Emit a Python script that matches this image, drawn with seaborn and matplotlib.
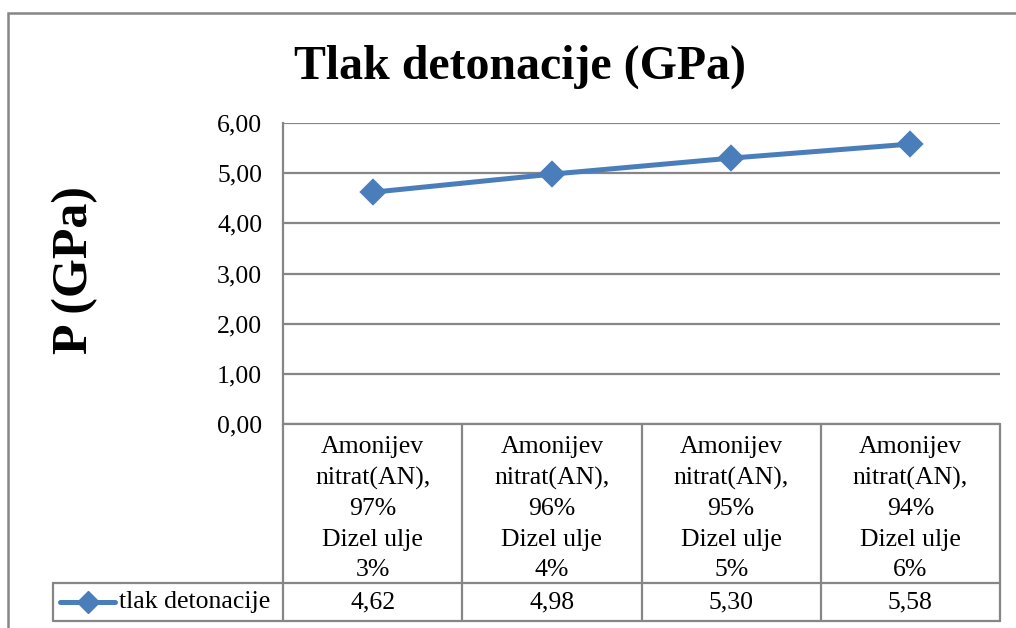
import seaborn as sns
import pandas as pd
import matplotlib.pyplot as plt
from matplotlib.patches import Rectangle
from matplotlib.lines import Line2D
import matplotlib.transforms as mtransforms

#-----------------------------------------------------------------------------------------------------------------------
"""Data"""
categories = ["Amonijev\nnitrat(AN),\n97%\nDizel ulje\n3%",
              "Amonijev\nnitrat(AN),\n96%\nDizel ulje\n4%",
              "Amonijev\nnitrat(AN),\n95%\nDizel ulje\n5%",
              "Amonijev\nnitrat(AN),\n94%\nDizel ulje\n6%"]
pressure = [4.62, 4.98, 5.30, 5.58]
value_labels = ["4,62", "4,98", "5,30", "5,58"]
series_name = "tlak detonacije"
y_ticks = [0, 1, 2, 3, 4, 5, 6]

df = pd.DataFrame({"cat": categories, "P": pressure})

#-----------------------------------------------------------------------------------------------------------------------
"""Figure"""
sns.set_style("white")
MyFont = ['Liberation Serif', 'DejaVu Serif']
plt.rcParams['font.family'] = MyFont
plt.rcParams['text.color'] = 'black'
plt.rcParams['ytick.color'] = 'black'
plt.rcParams['ytick.labelcolor'] = 'black'

MyBlue = '#4a7ebb'
GridGray = '#868686'
fs = 18.5

fig = plt.figure(figsize=(10.16, 6.28), dpi=100)
ax = fig.add_axes([283/1016, 1-424/628, 717/1016, 301/628])

#Outer chart border
fig.patches.append(Rectangle((8/1016, -0.05), 1.2, 1-13/628+0.05, transform=fig.transFigure,
                             fill=False, edgecolor=GridGray, linewidth=1.8, zorder=0))

#-----------------------------------------------------------------------------------------------------------------------
"""Plotting the line"""
sns.pointplot(data=df, x="cat", y="P", color=MyBlue, markers='D', markersize=11,
              linewidth=3.6, ax=ax, zorder=5)

ax.set_ylim(0, 6)
ax.set_xlim(-0.5, len(categories) - 0.5)
ax.set_yticks(y_ticks)
ax.set_yticklabels([f"{v:.2f}".replace('.', ',') for v in y_ticks], fontsize=fs, color='black',
                   family=MyFont)
ax.set_xticks([])
ax.set_xlabel("")
ax.tick_params(axis='y', length=0, pad=15)
ax.yaxis.grid(True, color=GridGray, linewidth=1.6)
ax.set_axisbelow(True)

for s in ['top', 'right', 'bottom']:
    ax.spines[s].set_visible(False)
ax.spines['left'].set_color(GridGray)
ax.spines['left'].set_linewidth(1.6)

#-----------------------------------------------------------------------------------------------------------------------
"""Data table"""
row1 = -159/301
row2 = -197/301
trans = mtransforms.blended_transform_factory(ax.transData, ax.transAxes)
tbl = dict(color=GridGray, linewidth=1.6, clip_on=False)

#Horizontal lines
ax.add_line(Line2D([0, 1], [0, 0], transform=ax.transAxes, **tbl))
ax.add_line(Line2D([-230/717, 1], [row1, row1], transform=ax.transAxes, **tbl))
ax.add_line(Line2D([-230/717, 1], [row2, row2], transform=ax.transAxes, **tbl))
ax.add_line(Line2D([-230/717, -230/717], [row1, row2], transform=ax.transAxes, **tbl))
ax.add_line(Line2D([0, 0], [0, row2], transform=ax.transAxes, **tbl))

#Vertical dividers between categories
for i in range(len(categories)):
    ax.add_line(Line2D([i + 0.5, i + 0.5], [0, row2], transform=trans, **tbl))

#Category labels and values
for i, (c, v) in enumerate(zip(categories, value_labels)):
    ax.text(i, -0.2811, c, transform=trans, ha='center', va='center', fontsize=fs,
            linespacing=1.49, family=MyFont)
    ax.text(i, (row1 + row2) / 2, v, transform=trans, ha='center', va='center', fontsize=fs,
            family=MyFont)

#Legend key inside the table
ymid = (row1 + row2) / 2
ax.add_line(Line2D([-223/717, -168/717], [ymid, ymid], transform=ax.transAxes,
                   color=MyBlue, linewidth=3.6, clip_on=False))
ax.add_line(Line2D([-195/717], [ymid], transform=ax.transAxes,
                   color=MyBlue, marker='D', markersize=11, clip_on=False))
ax.text(-164/717, ymid, series_name, transform=ax.transAxes, ha='left', va='center',
        fontsize=fs, family=MyFont)

#-----------------------------------------------------------------------------------------------------------------------
"""Titles"""
fig.text(0.512, 0.893, "Tlak detonacije (GPa)", ha='center', va='center', fontsize=34.5,
         fontweight='bold', family=MyFont)
fig.text(0.074, 0.57, "P (GPa)", ha='center', va='center', rotation=90, fontsize=36,
         fontweight='bold', family=MyFont)

ax.set_ylabel("")

plt.savefig("out.png", dpi=100)
